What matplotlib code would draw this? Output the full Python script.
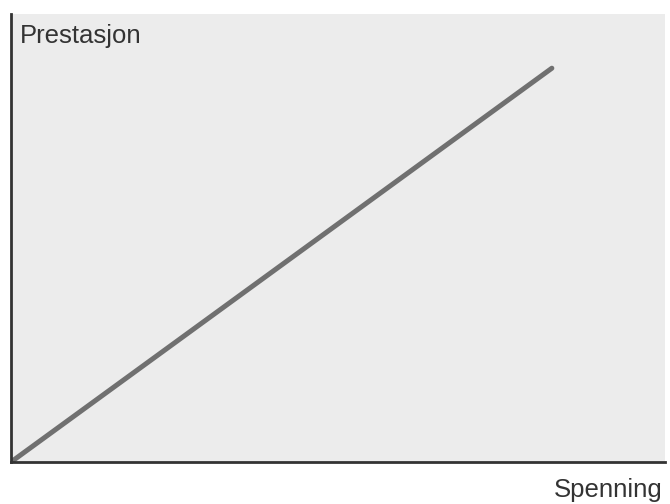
import matplotlib.pyplot as plt

# the single straight line: performance rises with tension
spenning = [0, 8.27]
prestasjon = [0, 8.79]

fig = plt.figure(figsize=(6.7, 5.04), dpi=100)
fig.patch.set_facecolor('white')
ax = fig.add_axes([11/670, 42/504, 654/670, 448/504])
ax.set_facecolor('#ececec')

ax.plot(spenning, prestasjon, color='#707070', linewidth=3.6, solid_capstyle='round')

ax.set_xlim(0, 10)
ax.set_ylim(0, 10)
ax.set_xticks([])
ax.set_yticks([])
for side in ['top', 'right']:
    ax.spines[side].set_visible(False)
for side in ['left', 'bottom']:
    ax.spines[side].set_color('#333333')
    ax.spines[side].set_linewidth(2)

fig.text(20/670, 1 - 43/504, 'Prestasjon', fontsize=18.5, family='Liberation Sans',
         color='#333333', ha='left', va='baseline')
fig.text(663/670, 1 - 497/504, 'Spenning', fontsize=18.5, family='Liberation Sans',
         color='#333333', ha='right', va='baseline')

fig.savefig('out.png', dpi=100)
